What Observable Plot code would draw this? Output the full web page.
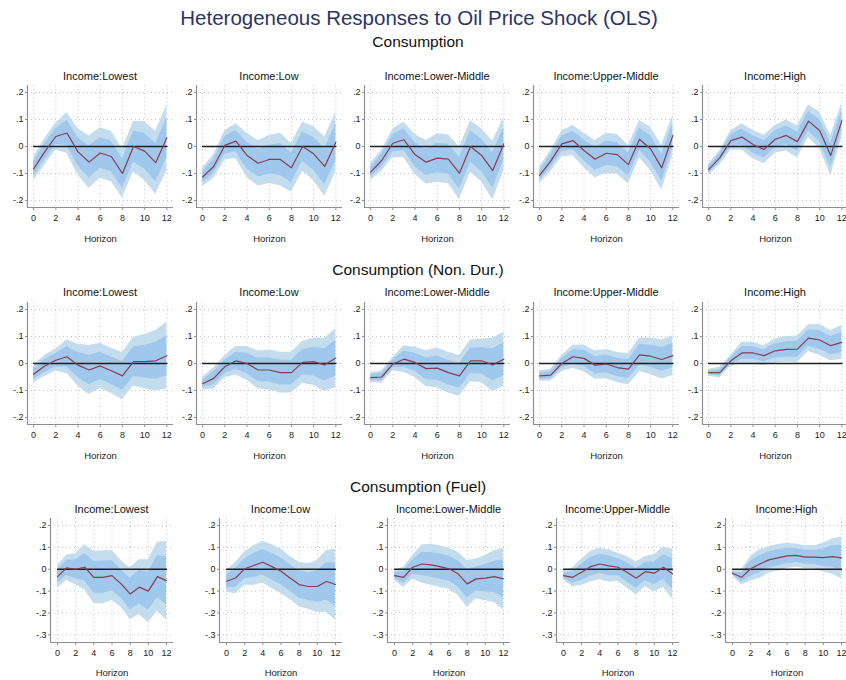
<!DOCTYPE html>
<html>
<head>
<meta charset="utf-8">
<script src="https://cdn.jsdelivr.net/npm/d3@7"></script>
<script src="https://cdn.jsdelivr.net/npm/@observablehq/plot@0.6"></script>
<style>
  body { margin: 0; background: #fff; font-family: "Liberation Sans", Arial, sans-serif; }
  #page { position: relative; width: 846px; height: 680px; overflow: hidden; }
  .lbl { position: absolute; white-space: nowrap; line-height: 1; transform: translateX(-50%); }
  .panel { position: absolute; }
  .panel svg { max-width: none; overflow: visible; }
</style>
</head>
<body>
<div id="page"></div>
<script>
// horizons, groups and titles
const horizons = [0, 1, 2, 3, 4, 5, 6, 7, 8, 9, 10, 11, 12]
const xTicks = [0, 2, 4, 6, 8, 10, 12]
const incomeGroups = ["Lowest", "Low", "Lower-Middle", "Upper-Middle", "High"]
const rowTitles = ["Consumption", "Consumption (Non. Dur.)", "Consumption (Fuel)"]
const yTicksCons = [-0.2, -0.1, 0, 0.1, 0.2]
const yTicksFuel = [-0.3, -0.2, -0.1, 0, 0.1, 0.2]

// Consumption: point estimate and standard error by horizon
const consLowest   = [-0.083, -0.02, 0.037, 0.05, -0.02, -0.058, -0.024, -0.037, -0.10, 0.0, -0.017, -0.06, 0.032]
const consLowestSE = [0.026, 0.030, 0.030, 0.046, 0.052, 0.059, 0.057, 0.057, 0.055, 0.057, 0.066, 0.071, 0.074]
const consLow      = [-0.113, -0.074, 0.004, 0.02, -0.033, -0.062, -0.048, -0.048, -0.079, 0.0, -0.027, -0.074, 0.016]
const consLowSE    = [0.021, 0.027, 0.033, 0.039, 0.050, 0.051, 0.054, 0.059, 0.055, 0.055, 0.061, 0.067, 0.067]
const consLowMid   = [-0.095, -0.052, 0.012, 0.025, -0.03, -0.058, -0.043, -0.047, -0.099, 0.0, -0.033, -0.089, 0.01]
const consLowMidSE = [0.019, 0.024, 0.032, 0.040, 0.045, 0.049, 0.055, 0.055, 0.059, 0.058, 0.060, 0.066, 0.060]
const consUpMid    = [-0.107, -0.054, 0.01, 0.022, -0.015, -0.047, -0.025, -0.03, -0.067, 0.027, -0.009, -0.079, 0.041]
const consUpMidSE  = [0.019, 0.024, 0.029, 0.034, 0.039, 0.042, 0.045, 0.045, 0.043, 0.042, 0.049, 0.050, 0.045]
const consHigh     = [-0.086, -0.042, 0.022, 0.035, 0.007, -0.011, 0.027, 0.041, 0.018, 0.094, 0.059, -0.033, 0.096]
const consHighSE   = [0.013, 0.016, 0.022, 0.030, 0.032, 0.032, 0.031, 0.035, 0.036, 0.037, 0.041, 0.045, 0.039]

// Consumption (Non. Dur.)
const ndLowest     = [-0.04, -0.009, 0.012, 0.025, -0.006, -0.024, -0.009, -0.027, -0.046, 0.007, 0.007, 0.01, 0.029]
const ndLowestSE   = [0.019, 0.024, 0.025, 0.038, 0.047, 0.055, 0.051, 0.051, 0.053, 0.055, 0.061, 0.068, 0.075]
const ndLow        = [-0.075, -0.055, -0.012, 0.01, 0.0, -0.024, -0.024, -0.034, -0.034, 0.004, 0.007, -0.005, 0.02]
const ndLowSE      = [0.014, 0.024, 0.025, 0.032, 0.038, 0.043, 0.045, 0.046, 0.046, 0.047, 0.053, 0.060, 0.066]
const ndLowMid     = [-0.052, -0.05, -0.002, 0.016, 0.004, -0.019, -0.017, -0.034, -0.046, 0.01, 0.01, -0.005, 0.016]
const ndLowMidSE   = [0.011, 0.014, 0.015, 0.030, 0.034, 0.040, 0.045, 0.046, 0.046, 0.047, 0.049, 0.060, 0.061]
const ndUpMid      = [-0.046, -0.043, 0.0, 0.025, 0.019, -0.006, -0.002, -0.015, -0.021, 0.032, 0.027, 0.015, 0.029]
const ndUpMidSE    = [0.012, 0.013, 0.018, 0.026, 0.030, 0.032, 0.033, 0.034, 0.035, 0.038, 0.041, 0.044, 0.045]
const ndHigh       = [-0.034, -0.034, 0.01, 0.039, 0.039, 0.029, 0.047, 0.052, 0.053, 0.094, 0.087, 0.066, 0.078]
const ndHighSE     = [0.008, 0.012, 0.012, 0.024, 0.024, 0.022, 0.027, 0.029, 0.030, 0.030, 0.035, 0.034, 0.038]

// Consumption (Fuel)
const fuelLowest   = [-0.034, 0.006, 0.0, 0.009, -0.037, -0.037, -0.029, -0.067, -0.113, -0.082, -0.10, -0.034, -0.052]
const fuelLowestSE = [0.031, 0.035, 0.043, 0.063, 0.072, 0.074, 0.069, 0.065, 0.072, 0.076, 0.087, 0.096, 0.109]
const fuelLow      = [-0.055, -0.04, 0.002, 0.017, 0.032, 0.012, -0.009, -0.04, -0.07, -0.079, -0.079, -0.056, -0.07]
const fuelLowSE    = [0.030, 0.044, 0.046, 0.055, 0.058, 0.061, 0.062, 0.060, 0.062, 0.063, 0.072, 0.086, 0.099]
const fuelLowMid   = [-0.029, -0.037, 0.009, 0.024, 0.02, 0.012, 0.002, -0.021, -0.067, -0.044, -0.041, -0.034, -0.044]
const fuelLowMidSE = [0.014, 0.028, 0.033, 0.053, 0.057, 0.058, 0.057, 0.060, 0.065, 0.055, 0.063, 0.072, 0.086]
const fuelUpMid    = [-0.029, -0.037, -0.014, 0.012, 0.024, 0.015, 0.009, -0.014, -0.041, -0.011, -0.018, 0.009, -0.021]
const fuelUpMidSE  = [0.012, 0.026, 0.037, 0.043, 0.044, 0.045, 0.039, 0.044, 0.046, 0.042, 0.052, 0.056, 0.069]
const fuelHigh     = [-0.018, -0.037, 0.002, 0.024, 0.043, 0.052, 0.061, 0.063, 0.055, 0.055, 0.053, 0.058, 0.052]
const fuelHighSE   = [0.007, 0.021, 0.034, 0.040, 0.037, 0.037, 0.035, 0.032, 0.032, 0.032, 0.040, 0.049, 0.058]

const outerBand = "#c3ddef"
const innerBand = "#a0c8ec"
const irfColor = "#8a3c4f"
const axisGray = "#8f8f8f"
const gridGray = "#c4c4c4"

// layout per row (svg top, margins, domains)
const rows = [
  {title: rowTitles[0], titleTop: 34, panelTitleTop: 71, svgTop: 80, mTop: 5, plotH: 122, mBottom: 40, mLeft: 27, plotW: 146,
   xDomain: [-0.55, 12.6], yDomain: [-0.226, 0.226], yTicks: yTicksCons, labelDy: 34,
   est: [consLowest, consLow, consLowMid, consUpMid, consHigh], se: [consLowestSE, consLowSE, consLowMidSE, consUpMidSE, consHighSE]},
  {title: rowTitles[1], titleTop: 262, panelTitleTop: 287, svgTop: 297, mTop: 5, plotH: 122, mBottom: 40, mLeft: 27, plotW: 146,
   xDomain: [-0.55, 12.6], yDomain: [-0.226, 0.226], yTicks: yTicksCons, labelDy: 34,
   est: [ndLowest, ndLow, ndLowMid, ndUpMid, ndHigh], se: [ndLowestSE, ndLowSE, ndLowMidSE, ndUpMidSE, ndHighSE]},
  {title: rowTitles[2], titleTop: 479, panelTitleTop: 504, svgTop: 513, mTop: 5, plotH: 124, mBottom: 38, mLeft: 50, plotW: 123,
   xDomain: [-0.77, 12.77], yDomain: [-0.335, 0.232], yTicks: yTicksFuel, labelDy: 33,
   est: [fuelLowest, fuelLow, fuelLowMid, fuelUpMid, fuelHigh], se: [fuelLowestSE, fuelLowSE, fuelLowMidSE, fuelUpMidSE, fuelHighSE]}
]

// Stata style labels: .2, -.1, 0
const stataFmt = d => d === 0 ? "0" : (d < 0 ? "-" : "") + Math.abs(d).toFixed(1).replace(/^0/, "")

const page = d3.select("#page")

page.append("div").attr("class", "lbl")
  .style("left", "419px").style("top", "8px")
  .style("font-size", "20.5px").style("color", "#2b3467")
  .text("Heterogeneous Responses to Oil Price Shock (OLS)")

rows.forEach(row => {
  page.append("div").attr("class", "lbl")
    .style("left", "418px").style("top", row.titleTop + "px")
    .style("font-size", "15.5px").style("color", "#111")
    .text(row.title)

  incomeGroups.forEach((g, i) => {
    const left = Math.round(i * 168.7)
    const data = horizons.map((h, k) => ({h, b: row.est[i][k], s: row.se[i][k]}))

    page.append("div").attr("class", "lbl")
      .style("left", (left + row.mLeft + row.plotW / 2) + "px").style("top", row.panelTitleTop + "px")
      .style("font-size", "11px").style("color", "#111")
      .text("Income:" + g)

    let chart = Plot.plot({
      width: row.mLeft + row.plotW,
      height: row.mTop + row.plotH + row.mBottom,
      marginLeft: row.mLeft, marginRight: 0, marginTop: row.mTop, marginBottom: row.mBottom,
      style: {fontFamily: "Liberation Sans, Arial, sans-serif", fontSize: "9px", color: "#222", background: "transparent"},
      x: {domain: row.xDomain, label: null},
      y: {domain: row.yDomain, label: null},
      marks: [
        Plot.gridY(row.yTicks, {stroke: gridGray, strokeOpacity: 1, strokeDasharray: "1,3"}),
        Plot.gridX(xTicks, {stroke: gridGray, strokeOpacity: 1, strokeDasharray: "1,3"}),
        // 90% and 68% bands
        Plot.areaY(data, {x: "h", y1: d => d.b - 1.645 * d.s, y2: d => d.b + 1.645 * d.s, fill: outerBand}),
        Plot.areaY(data, {x: "h", y1: d => d.b - d.s, y2: d => d.b + d.s, fill: innerBand}),
        Plot.lineY(data, {x: "h", y: () => 0, stroke: "#1e1e1e", strokeWidth: 1.4}),
        Plot.lineY(data, {x: "h", y: "b", stroke: irfColor, strokeWidth: 1.2}),
        Plot.ruleX([row.xDomain[0]], {stroke: axisGray, strokeWidth: 1.2}),
        Plot.ruleY([row.yDomain[0]], {stroke: axisGray, strokeWidth: 1.2}),
        Plot.axisY({ticks: row.yTicks, tickSize: 2, tickPadding: 2, tickFormat: stataFmt, stroke: axisGray, label: null}),
        Plot.axisX({ticks: xTicks, tickSize: 3, tickPadding: 4, stroke: axisGray, label: null}),
        Plot.text(["Horizon"], {frameAnchor: "bottom", lineAnchor: "bottom", dy: row.labelDy, fontSize: 9.5, fill: "#222"})
      ]
    })

    page.append("div").attr("class", "panel")
      .style("left", left + "px").style("top", row.svgTop + "px")
      .append(() => chart)
  })
})
</script>
</body>
</html>
